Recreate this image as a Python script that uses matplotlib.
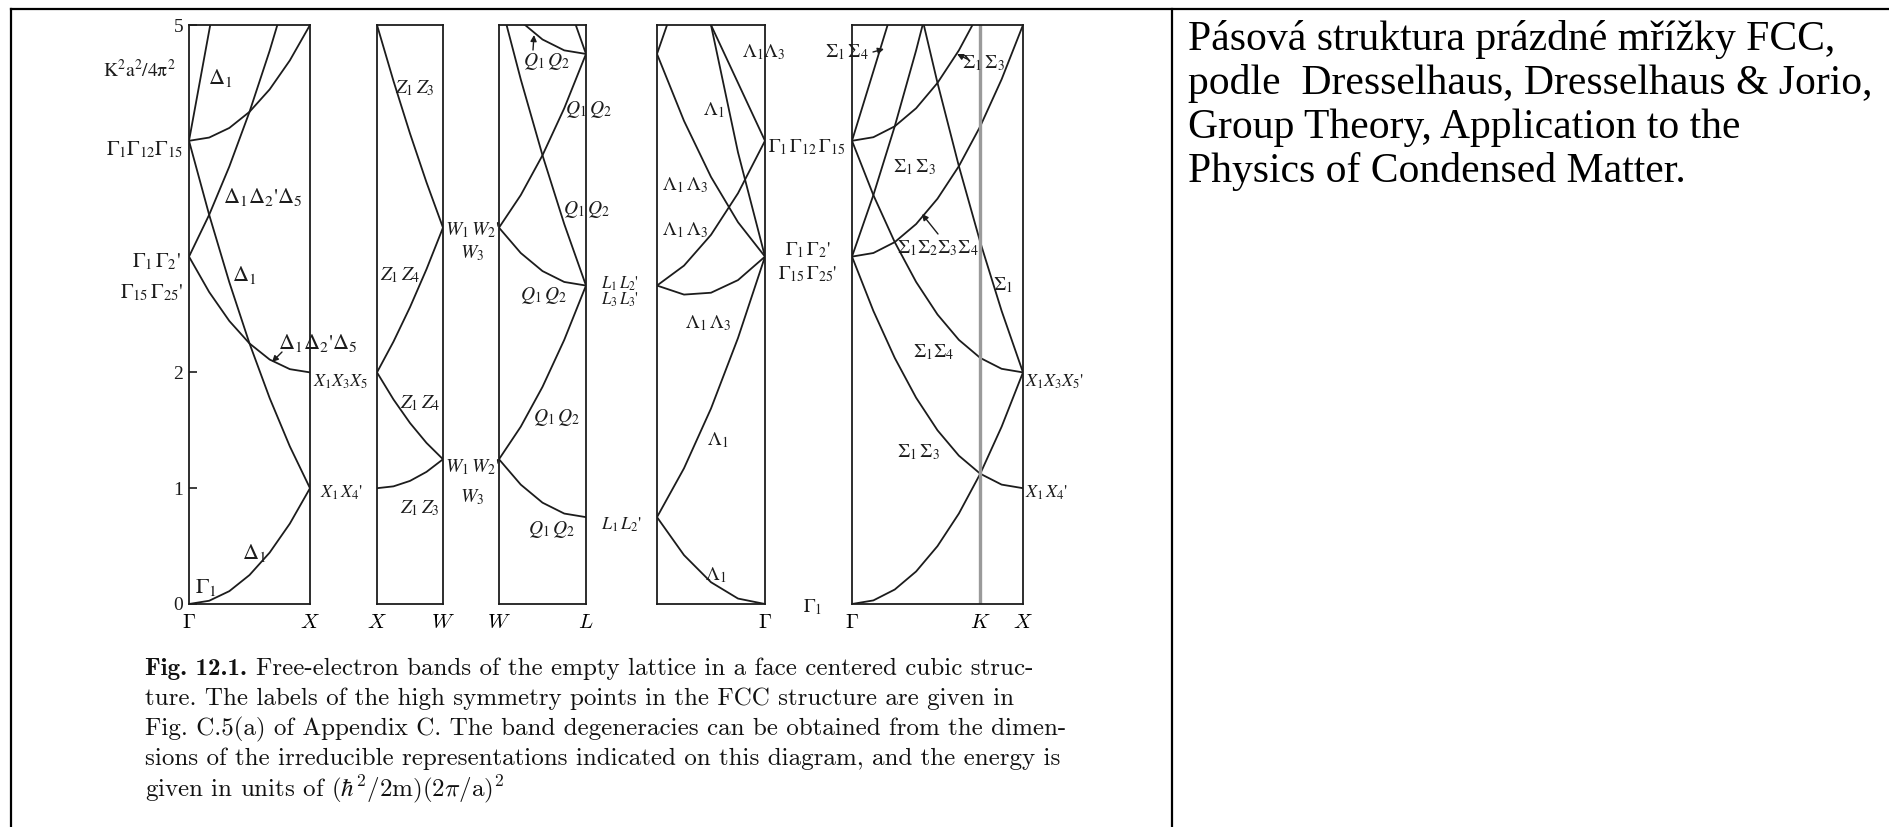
import numpy as np
import matplotlib
matplotlib.use("Agg")
import matplotlib.pyplot as plt
from matplotlib.lines import Line2D
from matplotlib.patches import FancyArrowPatch

W, H = 1890, 827

# band energies, units (hbar^2/2m)(2pi/a)^2, sampled evenly from left to right edge of each panel
gamma_x_bands = [
    [0.0, 0.028, 0.111, 0.25, 0.444, 0.694, 1.0],
    [4.0, 3.361, 2.778, 2.25, 1.778, 1.361, 1.0],
    [3.0, 2.694, 2.444, 2.25, 2.111, 2.028, 2.0],
    [3.0, 3.361, 3.778, 4.25, 4.778, 5.361, 6.0],
    [4.0, 4.028, 4.111, 4.25, 4.444, 4.694, 5.0],
    [4.0, 4.95, 5.9, 6.8, 7.7, 8.5, 9.0],
]
x_w_bands = [
    [1.0, 1.016, 1.063, 1.141, 1.25],
    [2.0, 1.766, 1.563, 1.391, 1.25],
    [2.0, 2.266, 2.563, 2.891, 3.25],
    [5.0, 4.516, 4.063, 3.641, 3.25],
]
w_l_bands = [
    [1.25, 1.031, 0.875, 0.781, 0.75],
    [1.25, 1.531, 1.875, 2.281, 2.75],
    [3.25, 3.031, 2.875, 2.781, 2.75],
    [3.25, 3.531, 3.875, 4.281, 4.75],
    [5.25, 4.531, 3.875, 3.281, 2.75],
    [5.25, 5.031, 4.875, 4.781, 4.75],
    [7.25, 6.531, 5.875, 5.281, 4.75],
]
l_gamma_bands = [
    [0.75, 0.422, 0.188, 0.047, 0.0],
    [0.75, 1.172, 1.688, 2.297, 3.0],
    [2.75, 2.922, 3.188, 3.547, 4.0],
    [2.75, 2.672, 2.688, 2.797, 3.0],
    [4.75, 4.172, 3.688, 3.297, 3.0],
    [5.9, 5.45, 5.0, 4.5, 4.0],
    [6.3, 5.6, 5.0, 3.9, 3.0],
    [4.75, 5.422, 6.188, 7.047, 8.0],
]
gamma_k_x_bands = [
    [0.0, 0.031, 0.125, 0.281, 0.5, 0.781, 1.125, 1.531, 2.0],
    [3.0, 2.531, 2.125, 1.781, 1.5, 1.281, 1.125, 1.031, 1.0],
    [3.0, 3.531, 4.125, 4.781, 5.5, 6.281, 7.125, 8.031, 9.0],
    [3.0, 3.031, 3.125, 3.281, 3.5, 3.781, 4.125, 4.531, 5.0],
    [4.0, 3.531, 3.125, 2.781, 2.5, 2.281, 2.125, 2.031, 2.0],
    [4.0, 4.6, 5.2, 5.8, 6.5, 7.3, 8.1, 9.0, 10.0],
    [4.0, 4.031, 4.125, 4.281, 4.5, 4.781, 5.125, 5.531, 6.0],
    [8.0, 7.031, 6.125, 5.281, 4.5, 3.781, 3.125, 2.531, 2.0],
]
k_point = 0.75

panel_bands = [gamma_x_bands, x_w_bands, w_l_bands, l_gamma_bands, gamma_k_x_bands]
panel_ticks = [([0, 1], [r"$\Gamma$", r"$X$"]),
               ([0, 1], [r"$X$", r"$W$"]),
               ([0, 1], [r"$W$", r"$L$"]),
               ([1], [r"$\Gamma$"]),
               ([0, k_point, 1], [r"$\Gamma$", r"$K$", r"$X$"])]
energy_ticks = [0, 1, 2, 5]

# panel edges in pixels
panel_px = [(189, 310), (377, 443), (499, 586), (657, 765), (852, 1023)]
top_px, bot_px = 25, 604
ink = "#1c1c1c"


def fx(x):
    return x / W


def fy(y):
    return 1 - y / H


fig = plt.figure(figsize=(W / 100, H / 100), dpi=100)

axes = []
for (x0, x1), bands, (tpos, tlab) in zip(panel_px, panel_bands, panel_ticks):
    ax = fig.add_axes([fx(x0), fy(bot_px), (x1 - x0) / W, (bot_px - top_px) / H])
    for b in bands:
        ax.plot(np.linspace(0, 1, len(b)), b, color=ink, lw=1.3)
    ax.set_xlim(0, 1)
    ax.set_ylim(0, 5)
    for s in ax.spines.values():
        s.set_linewidth(1.3)
        s.set_color(ink)
    ax.set_xticks(tpos, tlab)
    ax.tick_params(axis="x", length=0, pad=6, labelsize=15)
    for t in ax.get_xticklabels():
        t.set_math_fontfamily("cm")
    ax.set_yticks([])
    axes.append(ax)

axes[4].axvline(k_point, color="#9a9a9a", lw=2.4)

ax0 = axes[0]
ax0.set_yticks(energy_ticks, [str(v) for v in energy_ticks])
ax0.tick_params(axis="y", direction="in", length=6, width=1.2, pad=4,
                labelsize=14, colors=ink)
for t in ax0.get_yticklabels():
    t.set_fontfamily("Liberation Serif")

# band labels (pixel position, text, size)
labels_right = [
    (176, 70, r"$\mathrm{K^2a^2/4\pi^2}$", 14),
    (183, 150, r"$\Gamma_1\Gamma_{12}\Gamma_{15}$", 15),
    (181, 262, r"$\Gamma_1\,\Gamma_2$'", 15),
    (183, 293, r"$\Gamma_{15}\,\Gamma_{25}$'", 15),
]
labels_left = [
    (208, 78, r"$\Delta_1$", 16),
    (223, 197, r"$\Delta_1\Delta_2$'$\Delta_5$", 16),
    (232, 275, r"$\Delta_1$", 16),
    (278, 343, r"$\Delta_1\Delta_2$'$\Delta_5$", 16),
    (242, 553, r"$\Delta_1$", 16),
    (195, 587, r"$\Gamma_1$", 16),
    (313, 382, r"$X_1X_3X_5$", 13),
    (320, 493, r"$X_1\,X_4$'", 13),
    (395, 88, r"$Z_1\,Z_3$", 14),
    (445, 230, r"$W_1\,W_2$'", 14),
    (460, 253, r"$W_3$", 14),
    (380, 275, r"$Z_1\,Z_4$", 14),
    (400, 403, r"$Z_1\,Z_4$", 14),
    (445, 467, r"$W_1\,W_2$'", 14),
    (460, 497, r"$W_3$", 14),
    (400, 508, r"$Z_1\,Z_3$", 14),
    (523, 62, r"$Q_1\,Q_2$", 14),
    (565, 110, r"$Q_1\,Q_2$", 14),
    (563, 210, r"$Q_1\,Q_2$", 14),
    (520, 295, r"$Q_1\,Q_2$", 14),
    (533, 418, r"$Q_1\,Q_2$", 14),
    (528, 530, r"$Q_1\,Q_2$", 14),
    (601, 284, r"$L_1\,L_2$'", 12),
    (601, 300, r"$L_3\,L_3$'", 12),
    (601, 525, r"$L_1\,L_2$'", 13),
    (742, 52, r"$\Lambda_1\Lambda_3$", 14),
    (703, 110, r"$\Lambda_1$", 14),
    (768, 147, r"$\Gamma_1\,\Gamma_{12}\,\Gamma_{15}$", 14),
    (662, 185, r"$\Lambda_1\,\Lambda_3$", 14),
    (662, 230, r"$\Lambda_1\,\Lambda_3$", 14),
    (785, 250, r"$\Gamma_1\,\Gamma_2$'", 14),
    (778, 274, r"$\Gamma_{15}\,\Gamma_{25}$'", 14),
    (685, 323, r"$\Lambda_1\,\Lambda_3$", 14),
    (707, 440, r"$\Lambda_1$", 14),
    (705, 575, r"$\Lambda_1$", 14),
    (803, 607, r"$\Gamma_1$", 14),
    (825, 52, r"$\Sigma_1\,\Sigma_4$", 14),
    (962, 63, r"$\Sigma_1\,\Sigma_3$", 14),
    (893, 167, r"$\Sigma_1\,\Sigma_3$", 14),
    (897, 248, r"$\Sigma_1\Sigma_2\Sigma_3\Sigma_4$", 14),
    (993, 285, r"$\Sigma_1$", 14),
    (913, 352, r"$\Sigma_1\Sigma_4$", 14),
    (1025, 382, r"$X_1X_3X_5$'", 13),
    (897, 452, r"$\Sigma_1\,\Sigma_3$", 14),
    (1025, 493, r"$X_1\,X_4$'", 13),
]
for x, y, s, fs in labels_right:
    fig.text(fx(x), fy(y), s, ha="right", va="center", fontsize=fs, color=ink,
             family="STIXGeneral", math_fontfamily="stix")
for x, y, s, fs in labels_left:
    fig.text(fx(x), fy(y), s, ha="left", va="center", fontsize=fs, color=ink,
             family="STIXGeneral", math_fontfamily="stix")

arrows = [((282, 352), (272, 362)), ((533, 50), (534, 35)), ((873, 52), (884, 49)),
          ((967, 59), (957, 54)), ((938, 234), (922, 214))]
for (xa, ya), (xb, yb) in arrows:
    fig.add_artist(FancyArrowPatch((fx(xa), fy(ya)), (fx(xb), fy(yb)), transform=fig.transFigure,
                                   arrowstyle="-|>", mutation_scale=9, lw=1, color=ink,
                                   shrinkA=0, shrinkB=0))

# caption, first words in bold
caption = [
    "Free-electron bands of the empty lattice in a face centered cubic struc-",
    "ture. The labels of the high symmetry points in the FCC structure are given in",
    "Fig. C.5(a) of Appendix C. The band degeneracies can be obtained from the dimen-",
    "sions of the irreducible representations indicated on this diagram, and the energy is",
    r"given in units of $(\hbar^2/2\mathrm{m})(2\pi/\mathrm{a})^2$",
]
cap_x, cap_y, cap_fs = 145, 669, 18
head = fig.text(fx(cap_x), fy(cap_y), "Fig. 12.1.", ha="left", va="center",
                fontsize=cap_fs, family="cmb10", color="#111111")
renderer = fig.canvas.get_renderer()
head_w = head.get_window_extent(renderer).width
for i, line in enumerate(caption):
    x = cap_x + (head_w + 9 if i == 0 else 0)
    fig.text(fx(x), fy(cap_y + 30 * i), line, ha="left", va="center", fontsize=cap_fs,
             family="cmr10", math_fontfamily="cm", color="#111111")

# right cell text
note = ["Pásová struktura prázdné mřížky FCC,",
        "podle  Dresselhaus, Dresselhaus & Jorio,",
        "Group Theory, Application to the",
        "Physics of Condensed Matter."]
for i, line in enumerate(note):
    fig.text(fx(1188), fy(50 + 44 * i), line, ha="left", va="baseline", fontsize=30,
             family="Liberation Serif", color="black")

# table borders
for xs, ys in [([11, W], [9, 9]), ([11, 11], [9, H]), ([1172, 1172], [9, H])]:
    fig.add_artist(Line2D([fx(v) for v in xs], [fy(v) for v in ys], transform=fig.transFigure,
                          color="black", lw=1.6))

fig.savefig("out.png", dpi=100)
